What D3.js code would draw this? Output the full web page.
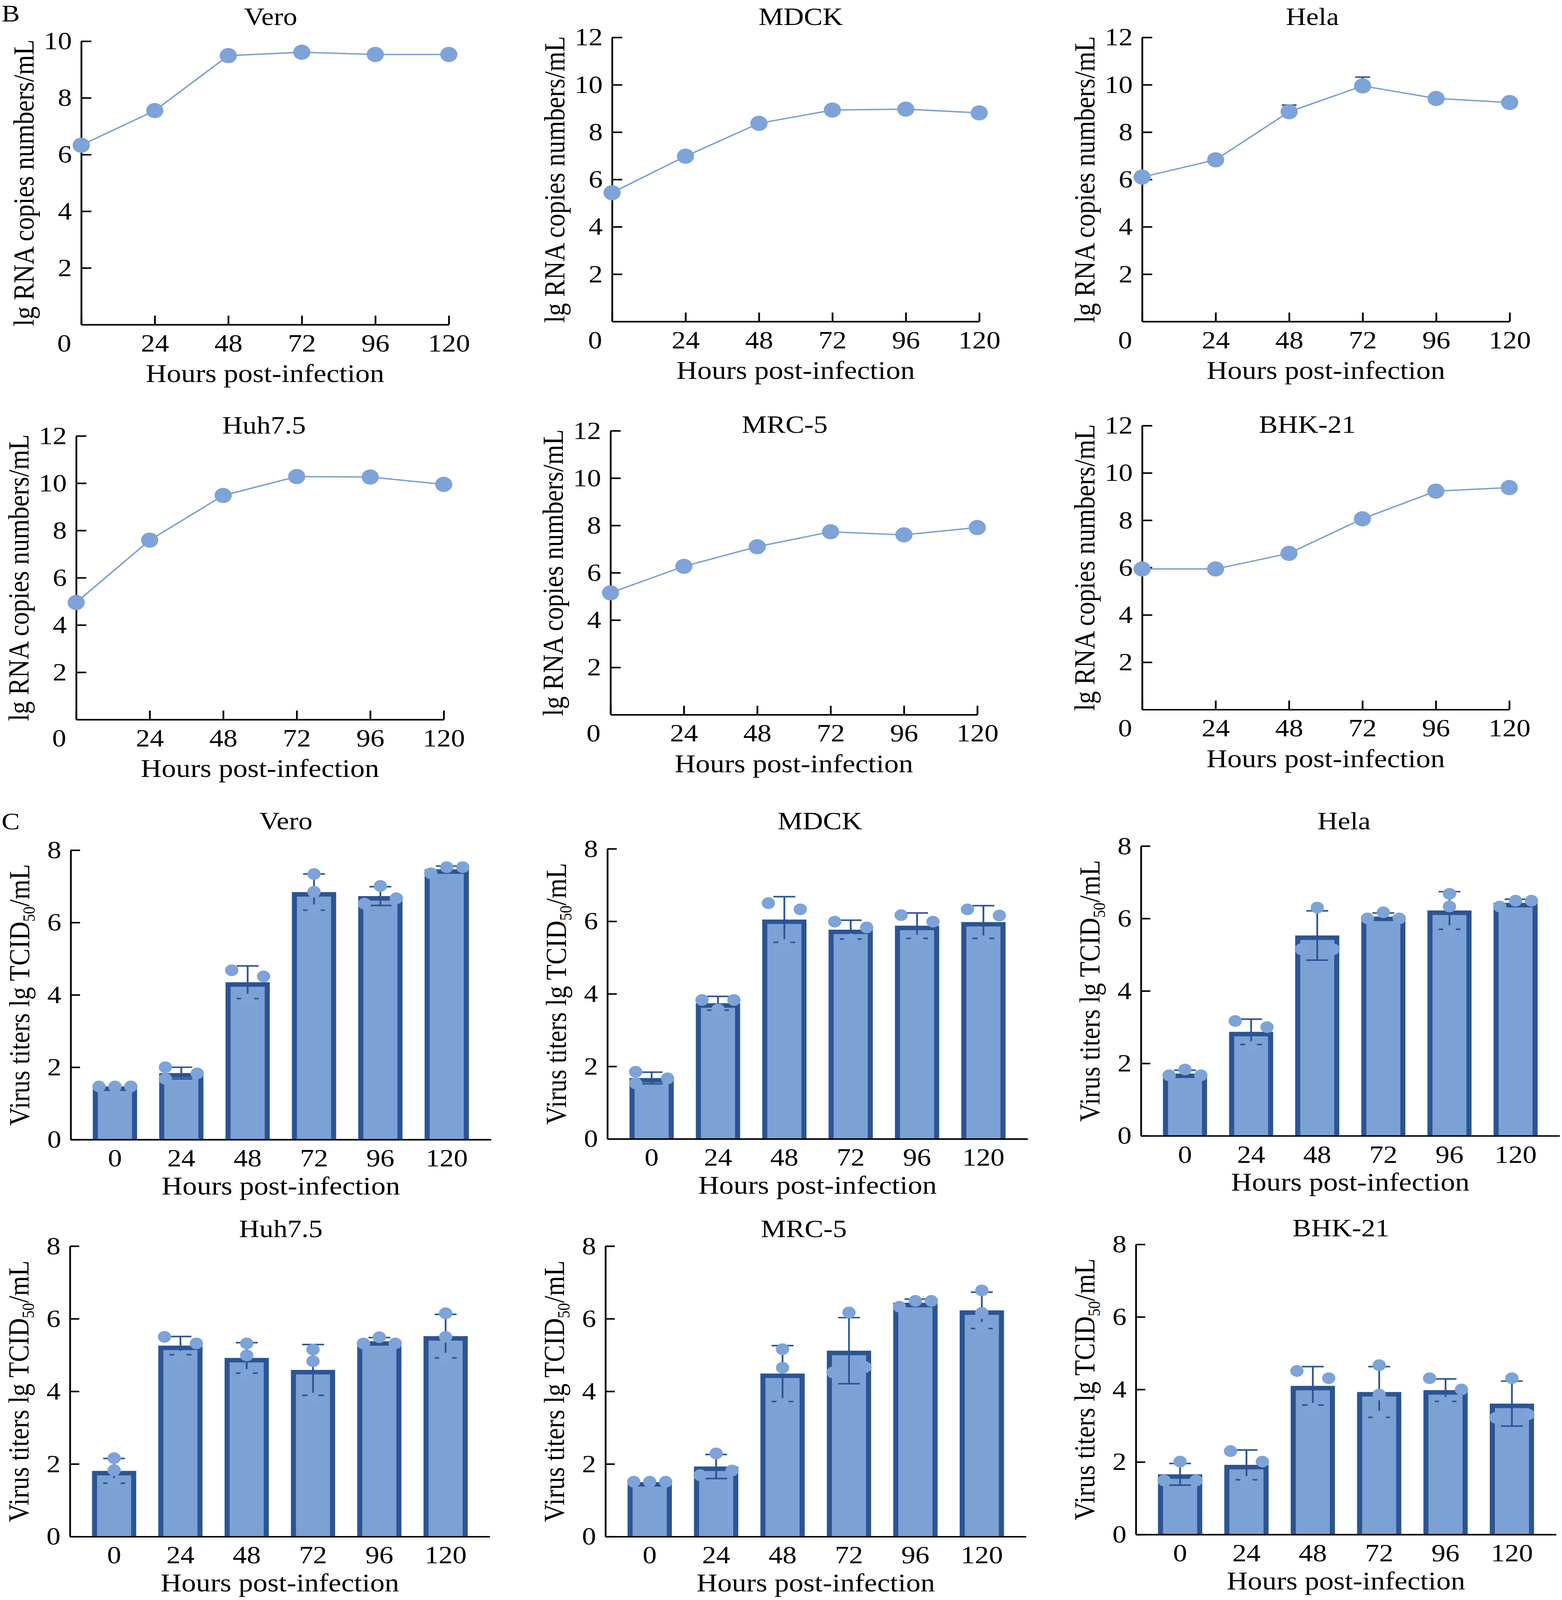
<!DOCTYPE html>
<html>
<head>
<meta charset="utf-8">
<script src="https://cdn.jsdelivr.net/npm/d3@7"></script>
<style>
  html, body { margin: 0; padding: 0; background: #fff; overflow: hidden; }
  svg { display: block; font-family: "Liberation Serif", "Times New Roman", serif; }
</style>
</head>
<body>
<svg id="fig"></svg>
<script>
// time points (hours post-infection)
var hours = [0, 24, 48, 72, 96, 120];
var hourLabels = ['0', '24', '48', '72', '96', '120'];

// B: lg RNA copies numbers/mL
var rnaVero  = [6.33, 7.55, 9.49, 9.61, 9.53, 9.53];
var rnaMDCK  = [5.44, 6.98, 8.37, 8.93, 8.97, 8.81];
var rnaHela  = [6.10, 6.83, 8.86, 9.95, 9.42, 9.25];
var rnaHuh75 = [4.95, 7.59, 9.48, 10.28, 10.26, 9.95];
var rnaMRC5  = [5.15, 6.27, 7.10, 7.73, 7.60, 7.91];
var rnaBHK21 = [5.94, 5.94, 6.60, 8.06, 9.23, 9.38];
// only Hela shows (upper) error bars in B
var rnaHelaSd = [0, 0, 0.28, 0.37, 0, 0];
var rnaNoSd   = [0, 0, 0, 0, 0, 0];

// C: virus titers lg TCID50/mL -- mean, SD, replicates, replicate slot (-1 left, 0 centre, 1 right)
var titerVeroMean = [1.47, 1.84, 4.35, 6.84, 6.73, 7.47];
var titerVeroSd   = [0, 0.16, 0.45, 0.50, 0.26, 0.09];
var titerVeroReps = [[1.47, 1.47, 1.47], [2.00, 1.68, 1.83], [4.68, 3.87, 4.51], [7.34, 6.85, 6.34], [7.01, 6.52, 6.67], [7.36, 7.53, 7.53]];
var titerVeroSlot = [[-1, 0, 1], [-1, -1, 1], [-1, 0, 1], [0, 0, 0], [0, -1, 1], [-1, 0, 1]];

var titerMDCKMean = [1.68, 3.74, 6.05, 5.77, 5.88, 5.98];
var titerMDCKSd   = [0.16, 0.19, 0.63, 0.26, 0.35, 0.45];
var titerMDCKReps = [[1.85, 1.53, 1.67], [3.83, 3.57, 3.83], [6.50, 5.35, 6.33], [5.99, 5.50, 5.83], [6.17, 5.47, 5.99], [6.33, 5.45, 6.16]];
var titerMDCKSlot = [[-1, -1, 1], [-1, 0, 1], [-1, 0, 1], [-1, 0, 1], [-1, 0, 1], [-1, 0, 1]];

var titerHelaMean = [1.72, 2.87, 5.53, 6.05, 6.22, 6.43];
var titerHelaSd   = [0.09, 0.35, 0.68, 0.10, 0.52, 0.10];
var titerHelaReps = [[1.67, 1.83, 1.67], [3.17, 2.45, 3.00], [5.15, 6.30, 5.15], [6.00, 6.17, 6.00], [6.68, 6.33, 5.65], [6.33, 6.49, 6.49]];
var titerHelaSlot = [[-1, 0, 1], [-1, 0, 1], [-1, 0, 1], [-1, 0, 1], [0, 0, 0], [-1, 0, 1]];

var titerHuh75Mean = [1.81, 5.26, 4.92, 4.59, 5.38, 5.52];
var titerHuh75Sd   = [0.34, 0.25, 0.42, 0.70, 0.10, 0.60];
var titerHuh75Reps = [[2.16, 1.83, 1.45], [5.50, 4.95, 5.32], [5.32, 4.99, 4.45], [5.15, 4.83, 3.80], [5.32, 5.49, 5.32], [6.15, 5.50, 4.90]];
var titerHuh75Slot = [[0, 0, 0], [-1, 0, 1], [0, 0, 0], [0, 0, 0], [-1, 0, 1], [0, 0, 0]];

var titerMRC5Mean = [1.50, 1.93, 4.49, 5.12, 6.44, 6.23];
var titerMRC5Sd   = [0, 0.33, 0.77, 0.91, 0.10, 0.50];
var titerMRC5Reps = [[1.51, 1.51, 1.51], [1.69, 2.29, 1.82], [5.16, 4.65, 3.65], [4.52, 6.17, 4.67], [6.33, 6.49, 6.49], [6.78, 6.16, 5.75]];
var titerMRC5Slot = [[-1, 0, 1], [-1, 0, 1], [0, 0, 0], [-1, 0, 1], [-1, 0, 1], [0, 0, 0]];

var titerBHK21Mean = [1.66, 1.92, 4.10, 3.93, 3.98, 3.61];
var titerBHK21Sd   = [0.30, 0.41, 0.53, 0.70, 0.31, 0.62];
var titerBHK21Reps = [[1.49, 2.01, 1.49], [2.30, 1.45, 2.01], [4.51, 3.47, 4.31], [4.67, 3.86, 3.25], [4.31, 3.63, 4.00], [3.22, 4.31, 3.31]];
var titerBHK21Slot = [[-1, 0, 1], [-1, 0, 1], [-1, 0, 1], [0, 0, 0], [-1, 0, 1], [-1, 0, 1]];

// colours
var FILL = '#7ca1d5';
var EDGE = '#2c5494';
var DOT = '#7da3d8';
var LINE = '#7b9fd4';

// the figure is laid out on a 3999 x 4643 frame; fit it into the visible window
var W = 3999, H = 4643;
var viewH = Math.min(H, window.innerHeight || H);
var svg = d3.select('#fig')
  .attr('width', W)
  .attr('height', viewH)
  .attr('viewBox', '0 0 ' + W + ' ' + H)
  .attr('preserveAspectRatio', 'none');

// panel frames (axis positions in px)
var lineFrames = [
  {left: 208, right: 1149, top: 119.5, bottom: 942, ymax: 10, titleX: 693, titleY: 73},
  {left: 1567, right: 2507, top: 108.5, bottom: 933, ymax: 12, titleX: 2050, titleY: 73},
  {left: 2924, right: 3865, top: 108.5, bottom: 933, ymax: 12, titleX: 3360, titleY: 73},
  {left: 195, right: 1136, top: 1265, bottom: 2088, ymax: 12, titleX: 676, titleY: 1258},
  {left: 1563, right: 2502, top: 1250, bottom: 2074, ymax: 12, titleX: 2009, titleY: 1256},
  {left: 2924, right: 3864, top: 1235, bottom: 2059, ymax: 12, titleX: 3347, titleY: 1256}
];
var barFrames = [
  {left: 181, right: 1257, top: 2467, bottom: 3307, titleX: 732, titleY: 2406},
  {left: 1555, right: 2631, top: 2463, bottom: 3305, titleX: 2099, titleY: 2406},
  {left: 2921, right: 3993, top: 2455, bottom: 3296, titleX: 3441, titleY: 2406},
  {left: 179, right: 1254, top: 3616, bottom: 4459, titleX: 719, titleY: 3590},
  {left: 1550, right: 2627, top: 3616, bottom: 4459, titleX: 2058, titleY: 3590},
  {left: 2908, right: 3984, top: 3611, bottom: 4453, titleX: 3433, titleY: 3588}
];

function styleAxis(g){
  g.attr('font-size', 72).attr('font-family', null);
  g.select('.domain').attr('stroke', '#000').attr('stroke-width', 4.5);
  g.selectAll('.tick line').attr('stroke', '#000').attr('stroke-width', 4.5);
  g.selectAll('.tick text').attr('fill', '#000');
}

function addTitles(g, f, name, xTitleGap, yTitleGap, yLabel){
  g.append('text')
    .attr('x', f.titleX).attr('y', f.titleY)
    .attr('text-anchor', 'middle').attr('font-size', 72)
    .text(name);

  g.append('text')
    .attr('x', (f.left + f.right) / 2).attr('y', f.bottom + xTitleGap)
    .attr('text-anchor', 'middle').attr('font-size', 74)
    .text('Hours post-infection');

  var yt = g.append('text')
    .attr('transform', 'translate(' + (f.left - yTitleGap) + ',' + ((f.top + f.bottom) / 2) + ') rotate(-90)')
    .attr('text-anchor', 'middle').attr('dy', '0.32em').attr('font-size', 74);
  yLabel(yt);
}

function drawLinePanel(f, name, vals, sd){
  var g = svg.append('g');
  var x = d3.scaleLinear().domain([0, 120]).range([f.left, f.right]);
  var y = d3.scaleLinear().domain([0, f.ymax]).range([f.bottom, f.top]);

  var ya = g.append('g')
    .attr('transform', 'translate(' + f.left + ',0)')
    .call(d3.axisLeft(y).tickValues(d3.range(2, f.ymax + 1, 2)).tickSizeInner(-26).tickSizeOuter(0).tickPadding(24));
  styleAxis(ya);

  var xa = g.append('g')
    .attr('transform', 'translate(0,' + f.bottom + ')')
    .call(d3.axisBottom(x).tickValues(hours).tickFormat(function(d, i){ return hourLabels[i]; })
      .tickSizeInner(-26).tickSizeOuter(0));
  styleAxis(xa);
  xa.selectAll('.tick text').attr('y', 78).attr('dy', null);
  // the origin label sits left of the y axis
  xa.selectAll('.tick').filter(function(d){ return d === 0; }).select('text').attr('x', -44);

  var line = d3.line()
    .x(function(d, i){ return x(hours[i]); })
    .y(function(d){ return y(d); });

  g.append('path')
    .datum(vals)
    .attr('d', line)
    .attr('fill', 'none')
    .attr('stroke', LINE)
    .attr('stroke-width', 4);

  // upper error bars
  var err = g.selectAll('.err').data(vals.map(function(v, i){ return {h: hours[i], v: v, sd: sd[i]}; })
    .filter(function(d){ return d.sd > 0; }))
    .enter().append('g').attr('class', 'err');
  err.append('line')
    .attr('x1', function(d){ return x(d.h); }).attr('x2', function(d){ return x(d.h); })
    .attr('y1', function(d){ return y(d.v); }).attr('y2', function(d){ return y(d.v + d.sd); })
    .attr('stroke', EDGE).attr('stroke-width', 4);
  err.append('line')
    .attr('x1', function(d){ return x(d.h) - 19; }).attr('x2', function(d){ return x(d.h) + 19; })
    .attr('y1', function(d){ return y(d.v + d.sd); }).attr('y2', function(d){ return y(d.v + d.sd); })
    .attr('stroke', EDGE).attr('stroke-width', 4.5);

  g.selectAll('circle.pt')
    .data(vals)
    .enter().append('circle')
    .attr('class', 'pt')
    .attr('cx', function(d, i){ return x(hours[i]); })
    .attr('cy', function(d){ return y(d); })
    .attr('r', 22)
    .attr('fill', DOT);

  addTitles(g, f, name, 167, 146, function(t){
    t.text('lg RNA copies numbers/mL');
  });
}

function drawBarPanel(f, name, mean, sd, reps, slots){
  var g = svg.append('g');
  var x = d3.scaleBand().domain(hourLabels).range([f.left, f.right]).paddingInner(0.333).paddingOuter(0.333);
  var y = d3.scaleLinear().domain([0, 8]).range([f.bottom, f.top]);
  var bw = x.bandwidth();
  var sw = 13;
  var rows = hourLabels.map(function(h, i){
    return {h: h, m: mean[i], sd: sd[i], reps: reps[i], slots: slots[i]};
  });

  // bars: light fill with a thick dark border on top and sides
  g.selectAll('rect.bar')
    .data(rows)
    .enter().append('rect')
    .attr('class', 'bar')
    .attr('x', function(d){ return x(d.h) + sw / 2; })
    .attr('y', function(d){ return y(d.m) + sw / 2; })
    .attr('width', bw - sw)
    .attr('height', function(d){ return y(0) - y(d.m) - sw / 2; })
    .attr('fill', FILL);

  g.selectAll('path.edge')
    .data(rows)
    .enter().append('path')
    .attr('class', 'edge')
    .attr('d', function(d){
      var x0 = x(d.h) + sw / 2, x1 = x(d.h) + bw - sw / 2, yt = y(d.m) + sw / 2;
      return 'M' + x0 + ',' + y(0) + 'V' + yt + 'H' + x1 + 'V' + y(0);
    })
    .attr('fill', 'none')
    .attr('stroke', EDGE)
    .attr('stroke-width', sw);

  var ya = g.append('g')
    .attr('transform', 'translate(' + f.left + ',0)')
    .call(d3.axisLeft(y).tickValues([0, 2, 4, 6, 8]).tickSizeInner(-24).tickSizeOuter(0).tickPadding(24));
  styleAxis(ya);

  var xa = g.append('g')
    .attr('transform', 'translate(0,' + f.bottom + ')')
    .call(d3.axisBottom(x).tickSize(0));
  styleAxis(xa);
  xa.selectAll('.tick text').attr('y', 78).attr('dy', null);

  // mean +/- SD
  var err = g.selectAll('g.err')
    .data(rows.filter(function(d){ return d.sd > 0; }))
    .enter().append('g').attr('class', 'err');
  var cx = function(d){ return x(d.h) + bw / 2; };
  err.append('line')
    .attr('x1', cx).attr('x2', cx)
    .attr('y1', function(d){ return y(d.m - d.sd); })
    .attr('y2', function(d){ return y(d.m + d.sd); })
    .attr('stroke', EDGE).attr('stroke-width', 4.5);
  [1, -1].forEach(function(s){
    err.append('line')
      .attr('x1', function(d){ return cx(d) - 28; })
      .attr('x2', function(d){ return cx(d) + 28; })
      .attr('y1', function(d){ return y(d.m + s * d.sd); })
      .attr('y2', function(d){ return y(d.m + s * d.sd); })
      .attr('stroke', EDGE).attr('stroke-width', 4.5);
  });

  // replicate dots, same colour as the bar fill
  rows.forEach(function(d){
    g.selectAll(null)
      .data(d.reps)
      .enter().append('circle')
      .attr('cx', function(v, j){ return x(d.h) + bw / 2 + d.slots[j] * bw * 0.36; })
      .attr('cy', function(v){ return y(v); })
      .attr('r', 17)
      .attr('fill', DOT);
  });

  addTitles(g, f, name, 159, 130, function(t){
    t.append('tspan').text('Virus titers lg TCID');
    t.append('tspan').attr('font-size', 44).attr('dy', 14).text('50');
    t.append('tspan').attr('dy', -14).text('/mL');
  });
}

drawLinePanel(lineFrames[0], 'Vero', rnaVero, rnaNoSd);
drawLinePanel(lineFrames[1], 'MDCK', rnaMDCK, rnaNoSd);
drawLinePanel(lineFrames[2], 'Hela', rnaHela, rnaHelaSd);
drawLinePanel(lineFrames[3], 'Huh7.5', rnaHuh75, rnaNoSd);
drawLinePanel(lineFrames[4], 'MRC-5', rnaMRC5, rnaNoSd);
drawLinePanel(lineFrames[5], 'BHK-21', rnaBHK21, rnaNoSd);

drawBarPanel(barFrames[0], 'Vero', titerVeroMean, titerVeroSd, titerVeroReps, titerVeroSlot);
drawBarPanel(barFrames[1], 'MDCK', titerMDCKMean, titerMDCKSd, titerMDCKReps, titerMDCKSlot);
drawBarPanel(barFrames[2], 'Hela', titerHelaMean, titerHelaSd, titerHelaReps, titerHelaSlot);
drawBarPanel(barFrames[3], 'Huh7.5', titerHuh75Mean, titerHuh75Sd, titerHuh75Reps, titerHuh75Slot);
drawBarPanel(barFrames[4], 'MRC-5', titerMRC5Mean, titerMRC5Sd, titerMRC5Reps, titerMRC5Slot);
drawBarPanel(barFrames[5], 'BHK-21', titerBHK21Mean, titerBHK21Sd, titerBHK21Reps, titerBHK21Slot);

// panel letters
svg.append('text').attr('x', 4).attr('y', 62).attr('font-size', 70).text('B');
svg.append('text').attr('x', 4).attr('y', 2406).attr('font-size', 70).text('C');
</script>
</body>
</html>
